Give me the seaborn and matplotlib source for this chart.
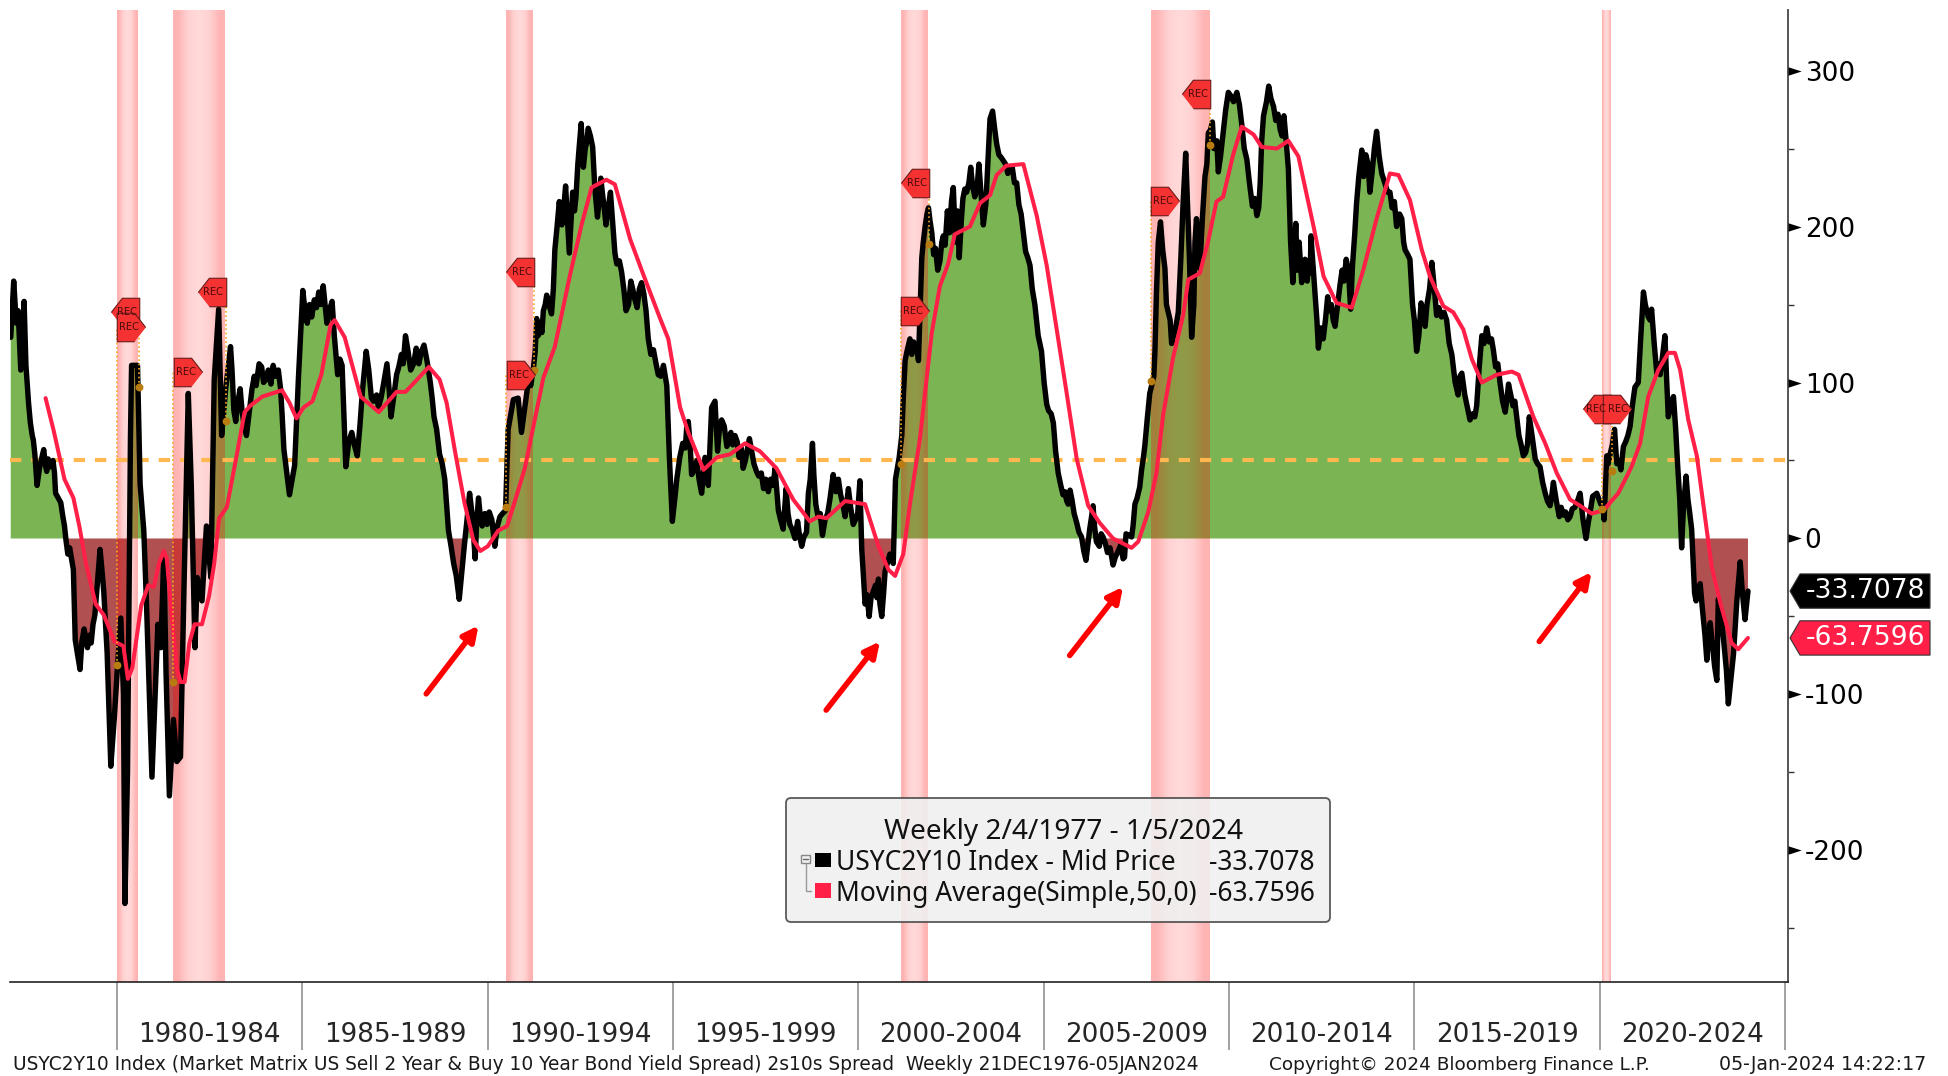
import numpy as np
import matplotlib
matplotlib.use("Agg")
import matplotlib.pyplot as plt
from matplotlib.patches import FancyBboxPatch, Polygon, Rectangle
from matplotlib.transforms import IdentityTransform
import seaborn as sns

sns.set_style("white")
plt.rcParams["font.family"] = ["DejaVu Sans"]

# USYC2Y10 spread

years_a = [1977.13, 1977.21, 1977.28, 1977.33, 1977.40, 1977.49, 1977.54, 1977.61, 1977.71, 1977.78, 1977.84, 1977.90,
           1978.02, 1978.10, 1978.27, 1978.34, 1978.48, 1978.58, 1978.67, 1978.77, 1978.87, 1979.00, 1979.11, 1979.20,
           1979.40, 1979.54, 1979.64, 1979.73, 1979.83, 1979.93, 1980.00, 1980.10, 1980.17, 1980.21, 1980.28, 1980.36,
           1980.39, 1980.55, 1980.62, 1980.72, 1980.79, 1980.94, 1981.03, 1981.10, 1981.18, 1981.26, 1981.32, 1981.41,
           1981.52, 1981.61, 1981.71, 1981.81, 1981.92, 1982.00, 1982.10, 1982.16, 1982.29, 1982.41, 1982.53, 1982.62,
           1982.74, 1982.82, 1982.93, 1983.06, 1983.20, 1983.32, 1983.49, 1983.64, 1983.83, 1984.02, 1984.21, 1984.41,
           1984.50, 1984.65, 1984.79, 1984.89, 1985.01, 1985.13, 1985.32, 1985.56, 1985.66, 1985.80, 1985.95, 1986.07,
           1986.17, 1986.33, 1986.48, 1986.72, 1986.86, 1987.05, 1987.28, 1987.39, 1987.54, 1987.78, 1987.92, 1988.21,
           1988.36, 1988.55, 1988.70, 1988.84, 1988.94, 1989.08, 1989.23, 1989.37, 1989.51, 1989.66, 1989.75, 1989.85,
           1990.04, 1990.19, 1990.33, 1990.48, 1990.55, 1990.69, 1990.82, 1990.91, 1991.05]
values_a = [129, 165, 138, 146, 108, 152, 111, 87, 66, 54, 34, 44,
            57, 43, 50, 29, 23, 8, -10, -13, -65, -84, -58, -70,
            -49, -7, -34, -73, -146, -113, -86, -51, -100, -234, -150, 65,
            111, 111, 35, 5, -40, -153, -98, -55, -70, -10, -86, -165,
            -116, -143, -140, -25, 93, 35, -70, -25, -40, 8, -25, 102,
            147, 66, 96, 123, 75, 96, 66, 96, 112, 102, 111, 96,
            57, 28, 47, 102, 159, 138, 153, 162, 138, 152, 105, 111,
            46, 68, 53, 120, 90, 84, 112, 78, 105, 130, 108, 120,
            114, 78, 54, 38, 5, -16, -39, -4, 29, -13, 26, 8,
            17, -5, 14, 18, 70, 89, 90, 68, 93]

years_b = [1991.23, 1991.32, 1991.50, 1991.59, 1991.72, 1991.81, 1991.93, 1992.00, 1992.10, 1992.20, 1992.29, 1992.38,
           1992.52, 1992.58, 1992.71, 1992.83, 1992.89, 1992.96, 1993.05, 1993.19, 1993.31, 1993.43, 1993.61, 1993.73,
           1993.86, 1993.97, 1994.09, 1994.21, 1994.33, 1994.47, 1994.60, 1994.74, 1994.83, 1994.90, 1994.98, 1995.10,
           1995.26, 1995.41, 1995.50, 1995.64, 1995.77, 1995.86, 1995.95, 1996.04, 1996.13, 1996.20, 1996.31, 1996.45,
           1996.67, 1996.89, 1997.06, 1997.25, 1997.57, 1997.75, 1997.84, 1997.97, 1998.05, 1998.15, 1998.29, 1998.36,
           1998.47, 1998.60, 1998.65, 1998.76, 1998.85, 1999.03, 1999.23, 1999.32, 1999.46, 1999.64, 1999.73, 1999.86,
           2000.04, 2000.09, 2000.18, 2000.29, 2000.40, 2000.54, 2000.63, 2000.72, 2000.85, 2000.94, 2001.00, 2001.10,
           2001.17, 2001.26, 2001.39, 2001.53, 2001.62, 2001.71, 2001.89, 2001.98, 2002.20, 2002.29, 2002.56, 2002.72,
           2002.87, 2003.03, 2003.14, 2003.25, 2003.37]
values_b = [109, 141, 146, 156, 144, 185, 216, 201, 226, 183, 222, 219,
            266, 238, 263, 251, 224, 206, 231, 201, 222, 183, 171, 146,
            165, 153, 160, 157, 128, 121, 105, 111, 98, 52, 11, 38,
            61, 75, 41, 50, 29, 52, 34, 84, 88, 56, 76, 59,
            66, 45, 64, 43, 30, 45, 18, 6, 32, 9, 0, 11,
            -5, 4, 29, 61, 22, 2, 25, 41, 38, 14, 32, 9,
            37, -7, -42, -50, -34, -26, -50, -21, -10, -16, 38, 52,
            66, 114, 128, 121, 114, 180, 212, 196, 178, 194, 225, 180,
            224, 238, 219, 240, 201]

years_c = [2003.55, 2003.62, 2003.73, 2003.86, 2004.09, 2004.27, 2004.45, 2004.63, 2004.76, 2004.94, 2005.08, 2005.26,
           2005.39, 2005.62, 2005.71, 2005.89, 2006.02, 2006.14, 2006.24, 2006.33, 2006.42, 2006.60, 2006.87, 2007.01,
           2007.14, 2007.22, 2007.37, 2007.46, 2007.59, 2007.73, 2007.86, 2007.97, 2008.04, 2008.15, 2008.27, 2008.36,
           2008.45, 2008.63, 2008.70, 2008.83, 2008.93, 2008.99, 2009.12, 2009.21, 2009.35, 2009.44, 2009.55, 2009.63,
           2009.71, 2009.84, 2009.98]
values_c = [269, 274, 253, 244, 237, 228, 196, 175, 150, 120, 86, 74,
            42, 24, 31, 10, 1, -14, 6, 21, -2, 1, -17, -8,
            -13, 3, 1, 22, 33, 60, 93, 104, 157, 203, 173, 145,
            125, 145, 180, 247, 180, 129, 205, 173, 232, 260, 267, 250,
            235, 260, 286]

years_d = [2010.21, 2010.34, 2010.48, 2010.63, 2010.75, 2010.84, 2010.93, 2011.07, 2011.20, 2011.38, 2011.48, 2011.60,
           2011.72, 2011.80, 2011.96, 2012.05, 2012.19, 2012.21, 2012.37, 2012.41, 2012.54, 2012.66, 2012.86, 2012.99,
           2013.16, 2013.28, 2013.44, 2013.58, 2013.69, 2013.80, 2013.98, 2014.12, 2014.34, 2014.66, 2014.75, 2014.88,
           2015.06, 2015.18, 2015.29, 2015.47, 2015.60, 2015.87, 2016.10, 2016.28, 2016.50, 2016.68, 2016.82, 2016.95,
           2017.13, 2017.31, 2017.45, 2017.54, 2017.76, 2017.94, 2018.10, 2018.26, 2018.39, 2018.53, 2018.66, 2018.75,
           2018.91, 2019.20, 2019.33]
values_d = [286, 266, 243, 213, 207, 228, 271, 290, 277, 262, 271, 237,
            164, 202, 164, 179, 170, 194, 140, 122, 128, 155, 136, 162,
            179, 147, 215, 249, 246, 222, 261, 234, 222, 205, 185, 179,
            120, 151, 136, 177, 143, 140, 100, 106, 76, 85, 130, 135,
            121, 100, 81, 99, 78, 53, 78, 51, 46, 29, 21, 36,
            14, 14, 20]

years_e = [2019.47, 2019.63, 2019.81, 2019.92, 2020.03, 2020.12, 2020.19, 2020.28, 2020.40, 2020.46, 2020.57, 2020.64,
           2020.82, 2020.95, 2021.04, 2021.18, 2021.31, 2021.40, 2021.54, 2021.63, 2021.76, 2021.85, 2021.99, 2022.10,
           2022.21, 2022.33, 2022.48, 2022.53, 2022.60, 2022.71, 2022.89, 2022.98, 2023.16, 2023.20, 2023.47, 2023.61,
           2023.79, 2023.92, 2024.00]
values_e = [29, 0, 27, 29, 22, 12, 53, 54, 70, 48, 44, 59,
            72, 97, 100, 158, 142, 147, 106, 105, 130, 78, 91, 48,
            -6, 40, 6, -20, -40, -29, -78, -54, -91, -39, -106, -74,
            -15, -52, -33.7078]

# finer wiggles of the weekly line, merged in by date below

wiggle_years_1 = [1977.66, 1977.74, 1977.95, 1978.06, 1978.14, 1978.20, 1978.31, 1978.41, 1978.53, 1978.62, 1978.72, 1978.82,
                  1978.93, 1979.05, 1979.15, 1979.25, 1979.30, 1979.35, 1979.47, 1979.59,
                  1983.10, 1983.15, 1983.26, 1983.37, 1983.43, 1983.55, 1983.60, 1983.70, 1983.75, 1983.90, 1983.95, 1984.08,
                  1984.15, 1984.28, 1984.35, 1984.45, 1984.95, 1985.07, 1985.19, 1985.25, 1985.38, 1985.44, 1985.50, 1985.72,
                  1985.86, 1986.01, 1986.25, 1986.40, 1986.55, 1986.62, 1986.79, 1986.92, 1987.00, 1987.12, 1987.18, 1987.34,
                  1987.47, 1987.60, 1987.67, 1987.72, 1987.85, 1988.00, 1988.07, 1988.14, 1988.28, 1988.45, 1988.50, 1988.62,
                  1988.77, 1989.01, 1989.15, 1989.44, 1989.58, 1989.70, 1989.80, 1989.92, 1989.98, 1990.11, 1990.26, 1990.40]
wiggle_values_1 = [74, 63, 50, 48, 51, 46, 42, 26, 15, -1, -6, -20,
                   -74, -66, -64, -62, -67, -55, -28, -20,
                   108, 82, 88, 82, 72, 78, 88, 104, 98, 110, 100, 108,
                   99, 104, 108, 80, 130, 146, 150, 142, 148, 158, 150, 146,
                   130, 115, 62, 60, 72, 95, 108, 88, 92, 90, 98, 95,
                   92, 110, 118, 112, 120, 112, 122, 112, 124, 100, 90, 70,
                   48, -5, -24, 12, 15, 10, 14, 16, 9, 12, 8, 16]

wiggle_years_2 = [1991.10, 1991.16, 1991.28, 1991.36, 1991.42, 1991.46, 1991.55, 1991.65, 1991.77, 1991.87, 1991.96, 1992.05,
                  1992.15, 1992.25, 1992.34, 1992.43, 1992.47, 1992.63, 1992.67, 1992.77, 1993.01, 1993.09, 1993.14, 1993.25,
                  1993.37, 1993.48, 1993.55, 1993.67, 1993.80, 1993.91, 1994.03, 1994.15, 1994.27, 1994.40, 1994.54, 1994.67,
                  1995.04, 1995.18, 1995.33, 1995.37, 1995.46, 1995.57, 1995.70, 1996.25, 1996.38, 1996.50, 1996.56, 1996.61,
                  1996.73, 1996.78, 1996.84, 1996.95, 1997.01, 1997.12, 1997.18, 1997.31, 1997.38, 1997.44, 1997.50, 1997.63,
                  1997.70, 1997.90, 1998.10, 1998.21, 1998.41, 1998.53, 1998.70, 1998.80, 1998.91, 1998.97, 1999.10, 1999.17,
                  1999.28, 1999.39, 1999.52, 1999.58, 1999.69, 1999.79, 1999.92, 1999.98, 2000.13, 2000.23, 2000.34, 2000.46,
                  2000.50, 2000.58, 2000.68, 2000.78, 2000.90]
wiggle_values_2 = [102, 98, 120, 130, 138, 132, 150, 150, 160, 200, 208, 212,
                   205, 204, 210, 240, 252, 250, 254, 258, 218, 222, 212, 212,
                   202, 176, 178, 160, 150, 160, 148, 164, 146, 118, 112, 104,
                   24, 52, 58, 72, 60, 44, 38, 70, 72, 62, 68, 60,
                   62, 52, 58, 50, 58, 56, 48, 40, 42, 32, 38, 38,
                   34, 12, 16, 6, 2, 1, 38, 40, 14, 16, 12, 16,
                   34, 30, 28, 22, 24, 20, 12, 16, -22, -36, -38, -30,
                   -38, -42, -35, -16, -13]

wiggle_years_3 = [2001.21, 2001.31, 2001.35, 2001.44, 2001.49, 2001.58, 2001.67, 2001.75, 2001.80, 2001.85, 2001.93, 2002.03,
                  2002.08, 2002.14, 2002.25, 2002.34, 2002.40, 2002.46, 2002.51, 2002.62, 2002.67, 2002.78, 2002.82, 2002.92,
                  2002.98, 2003.08, 2003.20, 2003.31, 2003.44, 2003.49, 2003.68, 2003.79, 2003.97, 2004.03, 2004.15, 2004.21,
                  2004.33, 2004.39, 2004.51, 2004.57, 2004.69, 2004.85, 2005.01, 2005.13, 2005.20, 2005.32, 2005.46, 2005.52,
                  2005.57, 2005.66, 2005.76, 2005.82, 2005.95, 2006.08, 2006.19, 2006.29, 2006.37, 2006.50, 2006.55, 2006.66,
                  2006.72, 2006.79, 2006.93, 2007.08, 2007.18, 2007.30, 2007.41, 2007.52, 2007.64, 2007.69, 2007.79, 2007.91,
                  2008.00, 2008.09, 2008.21, 2008.31, 2008.41, 2008.50, 2008.56, 2008.76, 2009.05, 2009.08, 2009.16, 2009.28,
                  2009.40, 2009.50, 2009.59, 2009.67, 2009.77, 2009.91, 2010.04, 2010.12, 2010.28, 2010.41, 2010.55, 2010.69,
                  2010.80]
wiggle_values_3 = [90, 120, 124, 118, 126, 122, 150, 190, 200, 208, 204, 182,
                   186, 172, 190, 188, 210, 196, 216, 190, 210, 205, 218, 222,
                   228, 226, 224, 220, 215, 240, 262, 246, 240, 234, 238, 228,
                   214, 208, 184, 180, 160, 130, 100, 82, 80, 56, 34, 28,
                   30, 22, 25, 16, 4, -8, -4, 14, 8, -5, 3, -3,
                   -9, -6, -12, -4, -12, 2, 8, 26, 44, 52, 76, 98,
                   120, 190, 185, 150, 140, 130, 135, 215, 150, 190, 195, 205,
                   240, 262, 250, 255, 245, 275, 284, 280, 278, 250, 228, 218,
                   212]

wiggle_years_4 = [2010.88, 2011.01, 2011.13, 2011.26, 2011.32, 2011.43, 2011.54, 2011.66, 2011.76, 2011.84, 2011.89, 2012.01,
                  2012.11, 2012.15, 2012.25, 2012.31, 2012.48, 2012.60, 2012.71, 2012.76, 2012.81, 2012.92, 2013.05, 2013.10,
                  2013.22, 2013.33, 2013.39, 2013.50, 2013.63, 2013.75, 2013.86, 2013.92, 2014.05, 2014.20, 2014.28, 2014.40,
                  2014.46, 2014.52, 2014.60, 2014.71, 2014.82, 2014.95, 2015.00, 2015.12, 2015.24, 2015.34, 2015.41, 2015.52,
                  2015.66, 2015.73, 2015.80, 2015.94, 2016.01, 2016.18, 2016.23, 2016.36, 2016.43, 2016.58, 2016.63, 2016.75,
                  2016.88, 2017.02, 2017.08, 2017.19, 2017.25, 2017.38, 2017.50, 2017.60, 2017.66, 2017.71, 2017.82, 2017.88,
                  2018.00, 2018.05, 2018.18, 2018.32, 2018.46, 2018.59, 2018.71, 2018.83, 2018.96, 2019.02, 2019.08, 2019.14,
                  2019.26, 2019.40, 2019.55, 2019.59, 2019.69, 2019.75]
wiggle_values_4 = [255, 280, 282, 268, 272, 258, 255, 190, 180, 172, 190, 170,
                   165, 178, 180, 160, 135, 140, 146, 150, 140, 148, 172, 165,
                   172, 175, 195, 232, 232, 240, 235, 250, 245, 228, 222, 212,
                   216, 200, 208, 190, 182, 150, 140, 130, 145, 150, 160, 165,
                   148, 142, 145, 125, 118, 92, 104, 92, 84, 80, 78, 110,
                   125, 126, 128, 110, 112, 88, 90, 92, 85, 88, 66, 60,
                   55, 60, 65, 48, 36, 24, 28, 24, 20, 15, 17, 12,
                   19, 24, 12, 6, 10, 18]

wiggle_years_5 = [2020.08, 2020.23, 2020.34, 2020.52, 2020.70, 2020.76, 2020.88, 2021.11, 2021.23, 2021.36, 2021.47, 2021.58,
                  2021.70, 2021.80, 2021.92, 2022.05, 2022.16, 2022.26, 2022.38, 2022.42, 2022.56, 2022.65, 2022.77, 2022.84,
                  2022.93, 2023.04, 2023.10, 2023.28, 2023.37, 2023.42, 2023.53, 2023.70, 2023.85]
wiggle_values_5 = [22, 48, 60, 50, 62, 66, 85, 130, 150, 140, 125, 112,
                   118, 105, 85, 70, 25, 20, 25, 18, -35, -32, -45, -62,
                   -64, -68, -82, -50, -72, -85, -92, -40, -35]

# 50 week moving average

ma_years = [1978.07, 1978.29, 1978.58, 1978.82, 1978.98, 1979.16, 1979.42, 1979.64, 1979.93, 1980.17, 1980.29, 1980.41,
            1980.65, 1980.84, 1980.99, 1981.13, 1981.26, 1981.34, 1981.47, 1981.61, 1981.71, 1981.82, 1981.95, 1982.09,
            1982.29, 1982.48, 1982.62, 1982.75, 1982.96, 1983.20, 1983.44, 1983.59, 1983.92, 1984.45, 1984.65, 1984.84,
            1985.03, 1985.27, 1985.51, 1985.76, 1985.87, 1986.14, 1986.57, 1987.06, 1987.54, 1987.78, 1988.02, 1988.41,
            1988.70, 1988.89, 1989.13, 1989.37, 1989.61, 1989.80, 1990.00, 1990.28, 1990.52, 1990.72, 1991.00, 1991.50,
            1991.81, 1992.22, 1992.53, 1992.80, 1993.20, 1993.43, 1993.84, 1994.20, 1994.65, 1994.87, 1995.19, 1995.41,
            1995.82, 1996.18, 1996.54, 1996.94, 1997.34, 1997.79, 1998.24, 1998.69, 1998.92, 1999.14, 1999.64, 2000.18,
            2000.54, 2000.81, 2000.99, 2001.21, 2001.39, 2001.66, 2001.98, 2002.20, 2002.42, 2002.60, 2003.01, 2003.28,
            2003.55, 2003.73, 2003.99, 2004.45, 2004.81, 2005.08, 2005.35, 2005.62, 2005.89, 2006.20, 2006.51, 2006.87,
            2007.37, 2007.55, 2007.82, 2008.04, 2008.22, 2008.49, 2008.76, 2008.90, 2009.21, 2009.44, 2009.66, 2009.84,
            2010.11, 2010.34, 2010.66, 2010.88, 2011.29, 2011.60, 2011.87, 2012.28, 2012.55, 2012.90, 2013.31, 2013.62,
            2013.98, 2014.34, 2014.57, 2014.88, 2015.20, 2015.42, 2015.78, 2016.05, 2016.32, 2016.55, 2016.82, 2017.22,
            2017.63, 2017.81, 2018.21, 2018.53, 2018.84, 2019.20, 2019.47, 2019.78, 2020.10, 2020.50, 2020.86, 2021.09,
            2021.31, 2021.58, 2021.85, 2022.03, 2022.17, 2022.39, 2022.62, 2022.84, 2023.02, 2023.25, 2023.56, 2023.74,
            2024.00]
ma_values = [90, 69, 38, 26, 8, -16, -42, -49, -66, -69, -90, -83,
             -43, -30, -31, -16, -8, -13, -49, -83, -92, -92, -67, -55,
             -55, -37, -16, 13, 20, 50, 81, 85, 91, 95, 87, 77,
             84, 88, 105, 137, 140, 129, 91, 81, 94, 94, 100, 110,
             102, 87, 54, 23, -1, -8, -5, 5, 8, 23, 45, 103,
             123, 169, 201, 225, 230, 227, 192, 169, 141, 128, 84, 68,
             44, 52, 54, 61, 56, 45, 25, 11, 14, 13, 24, 22,
             -5, -20, -24, -10, 22, 64, 132, 162, 176, 195, 200, 215,
             220, 233, 239, 240, 207, 175, 134, 93, 51, 21, 10, 0,
             -6, -2, 17, 42, 79, 116, 143, 166, 170, 191, 216, 219,
             246, 264, 259, 251, 250, 255, 245, 200, 168, 151, 148, 172,
             205, 234, 233, 217, 185, 168, 149, 145, 134, 115, 100, 105,
             107, 105, 78, 61, 42, 25, 21, 16, 18, 29, 46, 61,
             91, 108, 119, 119, 108, 76, 53, 14, -18, -41, -67, -71,
             -63.7596]

# recessions and their REC tags

rec_starts = [1980.0, 1981.5, 1990.5, 2001.16, 2007.89, 2020.07]
rec_ends = [1980.56, 1982.9, 1991.22, 2001.88, 2009.47, 2020.31]

tag_years = [1980.22, 1980.38, 1981.90, 1982.55, 1990.87, 1990.89, 2001.52, 2001.53, 2008.27, 2009.12, 2019.94, 2020.46]
tag_values = [145, 135.6, 107, 158, 171, 105, 228, 146, 216.5, 285, 83, 83]
tag_sides = ["left", "right", "right", "left", "left", "right", "left", "right", "right", "left", "left", "right"]
tag_text_years = [1980.27, 1980.33, 1981.85, 1982.60, 1990.92, 1990.84, 2001.57, 2001.48, 2008.22, 2009.17, 2019.90, 2020.50]
stem_years = [1980.59, 1980.0, 1981.5, 1982.93, 1991.25, 1990.5, 2001.9, 2001.16, 2007.89, 2009.48, 2020.32, 2020.07]
stem_values = [97, -81, -92, 75, 108, 20, 189, 48, 101, 252, 43, 19]

# the four hand drawn arrows

arrow_tail_years = [1988.34, 1999.13, 2005.70, 2018.37]
arrow_tail_values = [-99.6, -110, -75, -66]
arrow_head_years = [1989.75, 2000.58, 2007.14, 2019.78]
arrow_head_values = [-55.8, -66, -31, -21.5]

major_ticks = [-200, -100, 0, 100, 200, 300]
minor_ticks = [-250, -150, -50, 50, 150, 250]
year_edges = [1980, 1985, 1990, 1995, 2000, 2005, 2010, 2015, 2020, 2025]
period_labels = ["1980-1984", "1985-1989", "1990-1994", "1995-1999", "2000-2004",
                 "2005-2009", "2010-2014", "2015-2019", "2020-2024"]

last_values = [-33.7078, -63.7596]
last_labels = ["-33.7078", "-63.7596"]
last_colors = ["black", "#ff1f47"]

raw_years = np.array(years_a + years_b + years_c + years_d + years_e + wiggle_years_1 + wiggle_years_2
                     + wiggle_years_3 + wiggle_years_4 + wiggle_years_5)
raw_values = np.array(values_a + values_b + values_c + values_d + values_e + wiggle_values_1 + wiggle_values_2
                      + wiggle_values_3 + wiggle_values_4 + wiggle_values_5, dtype=float)
order = np.argsort(raw_years)
spread_years = raw_years[order]
spread_values = raw_values[order]

W, H = 1948, 1076
fig = plt.figure(figsize=(W / 100, H / 100), dpi=100, facecolor="white")
ax = fig.add_axes([10 / W, 1 - 981.5 / H, 1778 / W, 971.5 / H])


def px_y(y):
    return H - y


# area under the spread

ax.fill_between(spread_years, 0, spread_values, where=spread_values >= 0, interpolate=True,
                color="#7bb553", lw=0, zorder=1)
ax.fill_between(spread_years, 0, spread_values, where=spread_values <= 0, interpolate=True,
                color="#b05050", lw=0, zorder=1)

# recession bands, lighter in the middle

band = np.zeros((1, 5, 4))
band[..., 0] = 1.0
band[..., 1] = 0.02
band[..., 2] = 0.02
band[..., 3] = [0.30, 0.18, 0.15, 0.18, 0.30]
for start, end in zip(rec_starts, rec_ends):
    ax.imshow(band, extent=(start, end, -284, 339), aspect="auto", interpolation="bilinear", zorder=2)

ax.axhline(50, color="#ffb850", lw=3, ls=(0, (2.7, 2.4)), zorder=2.5)

sns.lineplot(x=spread_years, y=spread_values, color="black", lw=3.9, estimator=None, sort=False,
             ax=ax, zorder=3, legend=False)
sns.lineplot(x=ma_years, y=ma_values, color="#ff1f47", lw=2.9, estimator=None, sort=False,
             ax=ax, zorder=4, legend=False)

# REC tags with their dotted stems

left_tag = [(-1, 0), (-0.22, 1), (1, 1), (1, -1), (-0.22, -1)]
right_tag = [(1, 0), (0.22, 1), (-1, 1), (-1, -1), (0.22, -1)]
for x, y, side, tx, sx, sy in zip(tag_years, tag_values, tag_sides, tag_text_years, stem_years, stem_values):
    ax.plot([sx, sx], [sy, y], color="#f5a623", lw=1.2, ls=(0, (1, 1.6)), zorder=5)
    ax.scatter([sx], [sy], s=32, color="#b87c10", lw=0, zorder=5)
    ax.scatter([x], [y], marker=left_tag if side == "left" else right_tag, s=420,
               color="#f53232", edgecolor="#6b1a1a", lw=0.8, zorder=6)
    ax.text(tx, y, "REC", fontsize=7.2, color="#4a0a0a", ha="center", va="center", zorder=7)

for x0, y0, x1, y1 in zip(arrow_tail_years, arrow_tail_values, arrow_head_years, arrow_head_values):
    ax.annotate("", xy=(x1, y1), xytext=(x0, y0), zorder=8,
                arrowprops=dict(arrowstyle="-|>,head_length=0.6,head_width=0.3", color="#ff0000", lw=4,
                                shrinkA=0, shrinkB=0, mutation_scale=15))

ax.set_xlim(1977.11, 2025.08)
ax.set_ylim(-284, 338.8)

# axes

for side in ["left", "top"]:
    ax.spines[side].set_visible(False)
ax.spines["right"].set_color("#555555")
ax.spines["right"].set_linewidth(1.4)
ax.spines["bottom"].set_color("#222222")
ax.spines["bottom"].set_linewidth(1.2)

ax.yaxis.tick_right()
ax.set_yticks(major_ticks)
ax.set_yticklabels([str(t) for t in major_ticks], fontsize=18.9, color="black")
ax.set_yticks(minor_ticks, minor=True)
ax.tick_params(axis="y", which="major", length=0, pad=12)
ax.tick_params(axis="y", which="minor", length=4.2, width=1, color="#333333", right=True, left=False)
tri = [(0, -0.32), (1, 0), (0, 0.32)]
for t in major_ticks:
    ax.plot([1.0], [t], marker=tri, ms=19, color="black", mew=0, lw=0,
            transform=ax.get_yaxis_transform(), clip_on=False, zorder=9)

ax.set_xticks(year_edges)
ax.set_xticklabels([])
ax.tick_params(axis="x", which="major", length=49, width=1.3, color="#9a9a9a", bottom=True)
ax.set_xticks([y + 2.5 for y in year_edges[:-1]], minor=True)
ax.set_xticklabels(period_labels, minor=True, fontsize=18.9)
ax.tick_params(axis="x", which="minor", length=0, pad=29, bottom=True)

# last value tags on the right

for val, lab, col in zip(last_values, last_labels, last_colors):
    tr = ax.get_yaxis_transform()
    dy = 11
    x0 = 1.0 + 2 / 1778
    x1 = 1.0 + 12 / 1778
    x2 = 1.0 + 142 / 1778
    ax.add_patch(Polygon([(x0, val), (x1, val + dy), (x2, val + dy), (x2, val - dy), (x1, val - dy)],
                         closed=True, transform=tr, clip_on=False, facecolor=col, edgecolor="#333333",
                         lw=0.8, zorder=9))
    ax.text(1.0 + 137 / 1778, val, lab, transform=tr, ha="right", va="center", color="white",
            fontsize=19.2, clip_on=False, zorder=10)

# legend box, drawn by hand like the terminal does

idt = IdentityTransform()
ax.add_patch(FancyBboxPatch((790, px_y(918)), 536, 116, boxstyle="round,pad=4,rounding_size=5",
                            transform=idt, facecolor="#f0f0f0", edgecolor="#444444", lw=1.3, alpha=0.88,
                            clip_on=False, zorder=11))
legend_font = "Noto Sans"
ax.text(1064, px_y(832), "Weekly 2/4/1977 - 1/5/2024", transform=idt, ha="center", va="center",
        fontsize=20.2, family=legend_font, color="#111111", zorder=12)
ax.text(836.5, px_y(863), "USYC2Y10 Index - Mid Price", transform=idt, ha="left", va="center",
        fontsize=19, family=legend_font, color="#111111", zorder=12)
ax.text(836.5, px_y(894), "Moving Average(Simple,50,0)", transform=idt, ha="left", va="center",
        fontsize=19, family=legend_font, color="#111111", zorder=12)
ax.text(1315, px_y(863), "-33.7078", transform=idt, ha="right", va="center", fontsize=19,
        family=legend_font, color="#111111", zorder=12)
ax.text(1315, px_y(894), "-63.7596", transform=idt, ha="right", va="center", fontsize=19,
        family=legend_font, color="#111111", zorder=12)
ax.add_patch(Rectangle((815, px_y(867)), 16, 14, transform=idt, facecolor="black", lw=0, zorder=12))
ax.add_patch(Rectangle((815, px_y(898)), 16, 15, transform=idt, facecolor="#ff1f47", lw=0, zorder=12))
ax.plot([805.5, 805.5, 811], [px_y(863), px_y(891), px_y(891)], transform=idt, color="#999999", lw=1, zorder=12)
ax.add_patch(Rectangle((801, px_y(863)), 9, 8, transform=idt, facecolor="#f0f0f0", edgecolor="#888888",
                       lw=1, zorder=13))
ax.plot([803, 808], [px_y(859), px_y(859)], transform=idt, color="#666666", lw=1, zorder=14)

# footer

footer = "USYC2Y10 Index (Market Matrix US Sell 2 Year & Buy 10 Year Bond Yield Spread) 2s10s Spread  Weekly 21DEC1976-05JAN2024"
fig.text(13 / W, 1 - 1065 / H, footer, ha="left", va="center", fontsize=13.45, color="#1a1a1a")
fig.text(1269 / W, 1 - 1065 / H, "Copyright© 2024 Bloomberg Finance L.P.", ha="left", va="center",
         fontsize=13.3, color="#1a1a1a")
fig.text(1926 / W, 1 - 1065 / H, "05-Jan-2024 14:22:17", ha="right", va="center", fontsize=13.7, color="#1a1a1a")

fig.savefig("out.png", dpi=100, facecolor="white")
